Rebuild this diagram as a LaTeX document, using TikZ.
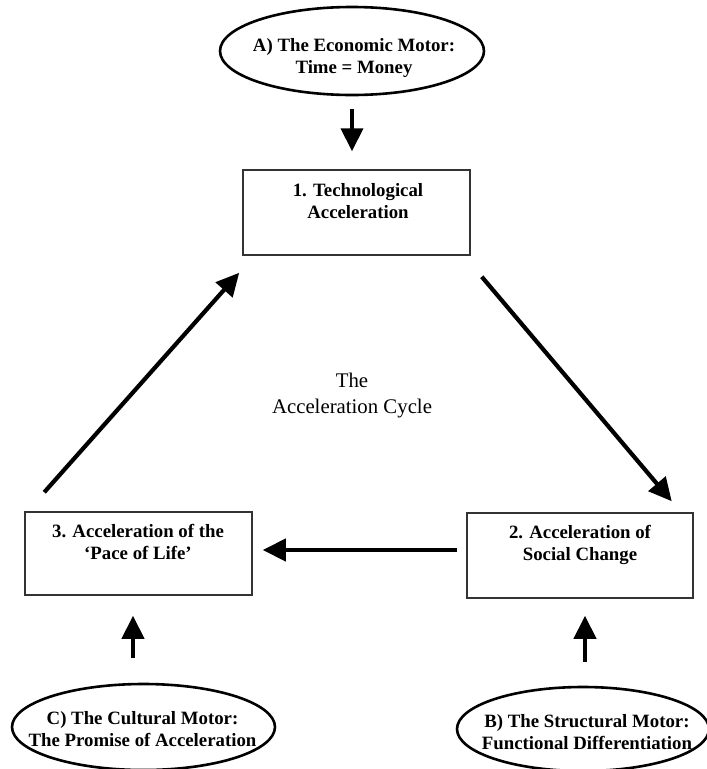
\documentclass[tikz,border=0pt]{standalone}
\usepackage{fontspec}
\setmainfont{Liberation Serif}
\usetikzlibrary{shapes.geometric,arrows.meta,calc}
\begin{document}
\begin{tikzpicture}[x=1pt,y=-1pt,
  motor/.style={draw=black, line width=2.6pt, ellipse, inner sep=0pt},
  stage/.style={draw=black!80, line width=1.5pt, rectangle, inner sep=0pt},
  lbl/.style={align=center, inner sep=0pt, font=\fontsize{18.8}{22}\selectfont\bfseries},
  cyc/.style={align=center, inner sep=0pt, font=\fontsize{20.8}{26}\selectfont},
  flow/.style={line width=4.2pt, -{Triangle[length=23pt,width=22pt]}}
]
\useasboundingbox (0,0) rectangle (707,769);
% motors
\node[motor, minimum width=264pt, minimum height=88pt] (ea) at (352,51) {};
\node[lbl] (ta) at (354,58) {A) The Economic Motor:\\Time = Money};
\node[motor, minimum width=263pt, minimum height=86pt] (ec) at (143.5,727) {};
\node[lbl] (tc) at (142.5,729) {C) The Cultural Motor:\\The Promise of Acceleration};
\node[motor, minimum width=252pt, minimum height=84pt] (eb) at (583,729) {};
\node[lbl] (tb) at (587,732) {B) The Structural Motor:\\Functional Differentiation};
% stages
\node[stage, minimum width=227pt, minimum height=85pt] (b1) at (356.5,212.5) {};
\node[lbl] (t1) at (358,201) {1. Technological\\Acceleration};
\node[stage, minimum width=226pt, minimum height=85pt] (b2) at (580,555.5) {};
\node[lbl] (t2) at (580,545) {2. Acceleration of\\Social Change};
\node[stage, minimum width=227pt, minimum height=83pt] (b3) at (138.5,553.5) {};
\node[lbl] (t3) at (138,542) {3. Acceleration of the\\‘Pace of Life’};
% centre
\node[cyc] (cc) at (352,396) {The\\Acceleration Cycle};
% arrows
\draw[flow] ($(ea.south)+(0,13)$) -- ($(b1.north)+(-4.5,-18)$);
\draw[flow] ($(b1.south east)+(11,21)$) -- ($(b2.north east)+(-22,-11)$);
\draw[flow] ($(b2.west)+(-9,-5.5)$) -- ($(b3.east)+(10,-3.5)$);
\draw[flow] ($(b3.north west)+(20,-19)$) -- ($(b1.south west)+(-3,17)$);
\draw[flow] ($(ec.north)+(-10.5,-25)$) -- ($(b3.south)+(-5.5,20)$);
\draw[flow] ($(eb.north)+(2,-24)$) -- ($(b2.south)+(5,17)$);
\end{tikzpicture}
\end{document}
